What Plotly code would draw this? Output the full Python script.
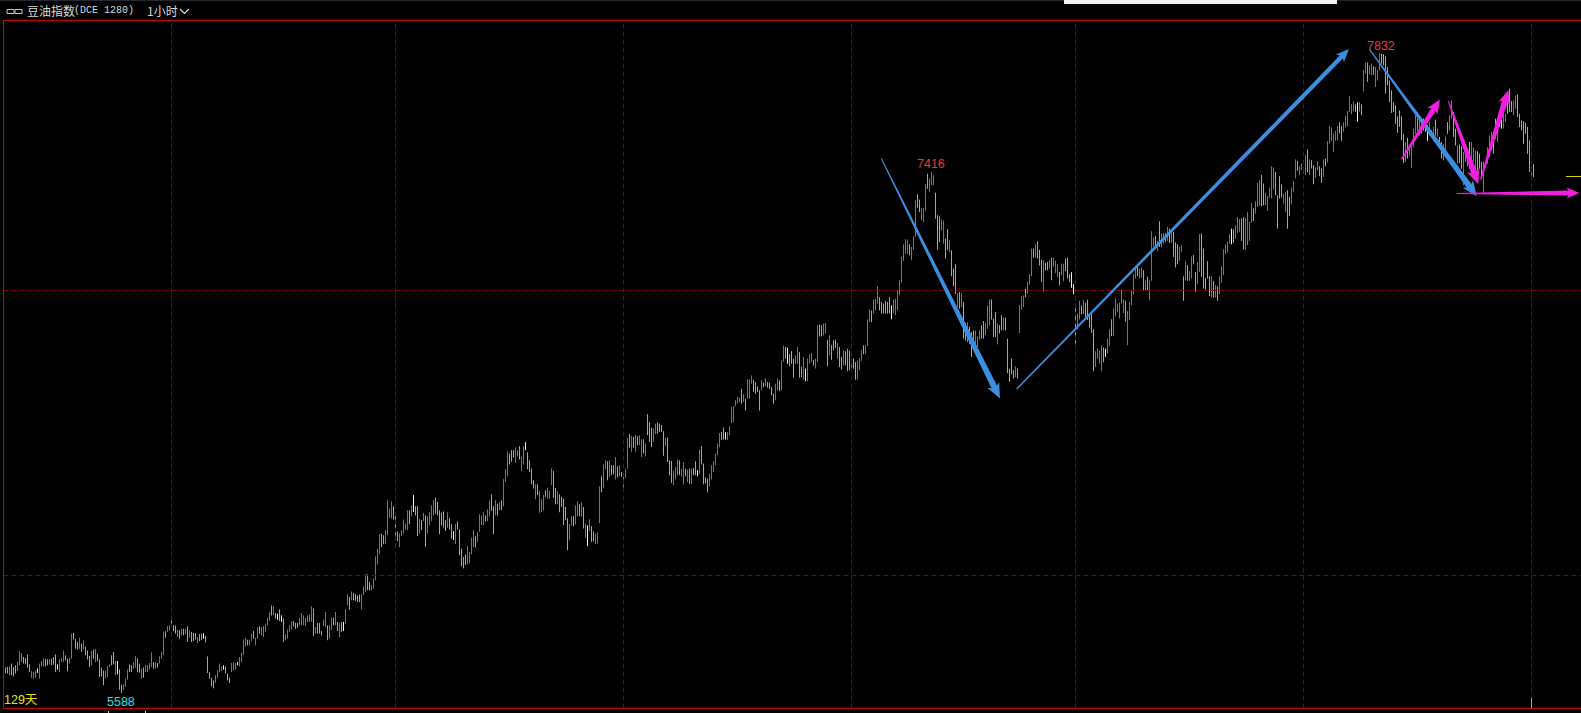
import math
import plotly.graph_objects as go

W, H = 1581, 713

highs = [
5677,5679,5681,5691,5679,5685,5696,5734,5728,5714,
5710,5723,5688,5665,5661,5667,5674,5691,5700,5710,
5708,5706,5706,5708,5714,5723,5688,5706,5710,5737,
5720,5708,5712,5796,5799,5778,5767,5782,5761,5772,
5751,5737,5718,5735,5740,5742,5726,5705,5677,5667,
5667,5682,5688,5720,5732,5700,5700,5671,5617,5618,
5638,5670,5688,5685,5696,5718,5710,5691,5673,5677,
5685,5685,5693,5730,5696,5696,5693,5716,5732,5803,
5805,5823,5825,5845,5825,5825,5810,5808,5813,5813,
5813,5822,5808,5802,5798,5798,5784,5794,5796,5798,
5787,5716,5661,5641,5632,5650,5667,5691,5681,5685,
5681,5656,5641,5693,5696,5693,5696,5714,5730,5776,
5782,5775,5775,5796,5805,5782,5819,5822,5819,5822,
5831,5852,5872,5895,5892,5868,5866,5881,5860,5849,
5794,5810,5825,5839,5840,5834,5834,5851,5868,5860,
5851,5860,5864,5892,5884,5819,5833,5833,5805,5845,
5872,5825,5825,5852,5852,5872,5837,5834,5837,5837,
5881,5934,5925,5944,5939,5934,5930,5934,5934,
5962,6004,6004,5977,5966,5989,6067,6094,6145,6147,6141,
6159,6264,6235,6260,6243,6211,6155,6147,6159,6196,
6182,6229,6229,6246,6282,6243,6243,6200,6194,6221,
6211,6208,6222,6246,6264,6273,6258,6229,6220,6225,
6194,6222,6203,6180,6156,6180,6190,6162,6094,6065,
6074,6103,6083,6133,6159,6138,6152,6215,6211,6222,
6211,6232,6262,6285,6243,6264,6252,6258,6264,6338,
6373,6436,6428,6440,6440,6449,6440,6454,6416,6454,
6468,6432,6404,6375,6334,6320,6320,6296,6268,6282,
6299,6308,6297,6376,6367,6307,6296,6285,6276,6269,
6241,6201,6180,6208,6208,6246,6260,6250,6257,6241,
6182,6176,6197,6173,6155,6147,6152,6313,6348,6390,
6404,6401,6404,6387,6387,6416,6383,6387,6363,6361,
6375,6482,6496,6489,6486,6492,6489,6492,6478,6478,
6463,6566,6538,6519,6516,6533,6537,6533,6528,6506,
6483,6484,6404,6402,6367,6381,6407,6404,6375,6397,
6375,6372,6375,6375,6377,6401,6369,6442,6454,6393,
6344,6340,6358,6387,6401,6428,6463,6500,6504,6519,
6503,6503,6524,6592,6594,6615,6627,6624,
6655,6636,6620,6688,6688,6702,6687,6679,6664,6650,
6685,6677,6691,6679,6677,6661,6638,6673,6692,6685,
6755,6806,6802,6799,6776,6787,6761,6772,6802,6784,
6732,6767,6726,6761,6776,6781,6757,6761,6878,6881,
6878,6884,6886,6827,6843,6808,6825,6827,6816,6802,
6767,6790,6787,6796,6790,6757,6761,6749,6755,6764,
6792,6808,6808,6899,6934,6930,6969,6969,7015,6977,
6960,6954,6963,6960,6977,6948,6968,6971,7001,7036,
7118,7162,7180,7178,7162,7153,7190,7317,7338,7319,
7290,7290,7373,7410,7393,7416,7404,7343,7264,7260,
7249,7246,7182,7215,7176,7141,7077,7092,6991,6995,
6991,6960,6886,6889,6872,6854,6860,6860,6839,6860,
6878,6893,6886,6948,6968,6969,6901,6925,6884,6878,
6913,6905,6905,6831,6726,6761,6720,6734,6726,6948,
6980,6983,7006,7030,7057,7147,7147,7162,7173,7143,
7108,7106,7097,7100,7106,7115,7115,7104,7092,7065,
7094,7094,7112,7115,7057,7064,7022,6948,
6919,6964,6948,6966,6957,6968,6917,6917,6864,6787,
6796,6790,6808,6800,6796,6831,6864,6899,6937,6972,
6954,6958,7004,6968,6964,6928,6960,7001,7057,7083,
7092,7077,7081,7071,7036,7048,7038,7208,7186,7191,
7174,7243,7200,7202,7200,7223,7217,7212,7205,7169,
7162,7153,7159,7050,7103,7089,7068,7120,7124,7065,
7100,7198,7200,7147,7044,7103,7050,7050,7033,7019,
7015,7050,7085,7145,7162,7171,7198,7217,7215,7229,
7258,7251,7253,7258,7253,7276,7241,7307,7288,7313,
7378,7387,7405,7375,7343,7331,7361,7436,7432,7416,
7334,7401,7373,7340,7346,7352,7329,7361,7384,7460,
7455,7436,7446,7432,7475,7495,7460,7457,7440,7432,
7454,7436,7428,7460,7463,7524,7577,7572,7551,7560,
7577,7590,7577,7590,7612,7630,7682,7654,7664,7654,
7660,7662,7653,7773,7800,7800,7790,7796,7787,7784,
7773,7832,7831,7829,7822,7784,7737,7702,7661,7650,
7611,7632,7611,7550,7521,7535,7509,7509,7568,7615,
7603,7603,7588,7603,7585,7580,7591,7562,7574,7599,
7568,7539,7521,7515,7541,7591,7615,7667,7626,7568,
7509,7513,7506,7486,7509,7498,7521,7521,7501,7492,
7489,7480,7451,7454,7451,7503,7544,7556,7539,7603,
7568,7597,7599,7620,7620,7673,7708,7665,7667,7685,
7688,7620,7597,7594,7588,7574,7527,7433,7443,
]

lows = [
5656,5656,5650,5650,5646,5656,5665,5685,5696,5691,
5688,5677,5661,5641,5638,5641,5658,5638,5681,5681,
5681,5685,5688,5685,5688,5661,5670,5661,5696,5696,
5702,5664,5691,5708,5775,5743,5740,5743,5732,5740,
5720,5705,5679,5685,5708,5696,5700,5644,5646,5615,
5638,5644,5679,5685,5688,5650,5653,5599,5588,5597,
5609,5634,5661,5661,5673,5677,5661,5659,5638,5641,
5661,5661,5670,5679,5673,5673,5677,5691,5708,5720,
5782,5802,5808,5822,5805,5796,5784,5778,5790,5790,
5794,5767,5782,5767,5770,5775,5763,5770,5773,5778,
5765,5658,5638,5611,5604,5623,5641,5661,5665,5670,
5656,5632,5623,5661,5667,5670,5685,5681,5696,5720,
5751,5755,5755,5770,5778,5755,5778,5796,5790,5784,
5802,5825,5840,5860,5860,5849,5845,5840,5837,5767,
5773,5778,5802,5810,5822,5813,5817,5825,5825,5825,
5822,5837,5837,5837,5787,5796,5796,5796,5790,5822,
5819,5773,5778,5808,5825,5825,5805,5784,5802,5805,
5831,5895,5880,5913,5913,5911,5907,5907,5880,
5931,5942,5948,5948,5948,5954,5983,6039,6074,6100,6110,
6110,6141,6203,6200,6196,6138,6121,6100,6138,6147,
6161,6159,6180,6208,6223,6211,6138,6147,6159,6191,
6100,6147,6176,6191,6211,6217,6211,6145,6176,6168,
6156,6168,6161,6129,6124,6110,6161,6071,6032,6025,
6036,6039,6042,6074,6100,6098,6118,6153,6177,6176,
6189,6191,6208,6227,6145,6211,6211,6229,6229,6243,
6328,6348,6390,6399,6414,6395,6418,6407,6367,6390,
6440,6373,6363,6320,6305,6268,6282,6220,6223,6229,
6276,6269,6269,6317,6273,6250,6250,6222,6241,6177,
6194,6089,6124,6175,6173,6180,6208,6208,6206,6165,
6131,6103,6156,6118,6119,6110,6112,6184,6292,6306,
6373,6334,6346,6352,6355,6337,6344,6348,6346,6305,
6342,6375,6449,6434,6449,6434,6457,6457,6416,6428,
6418,6492,6469,6451,6469,6496,6498,6504,6504,6420,
6454,6399,6352,6325,6317,6337,6352,6352,6346,6320,
6348,6328,6322,6320,6352,6352,6348,6355,6390,6320,
6322,6292,6313,6337,6363,6387,6422,6451,6475,6477,
6477,6475,6492,6535,6538,6594,6603,6609,
6603,6609,6579,6620,6620,6673,6644,6638,6644,6579,
6650,6661,6664,6659,6655,6632,6603,6615,6650,6647,
6650,6750,6761,6743,6734,6743,6694,6743,6743,6694,
6696,6687,6682,6682,6743,6749,6737,6726,6749,6839,
6839,6843,6849,6734,6772,6757,6790,6799,6761,6732,
6722,6737,6737,6717,6720,6717,6726,6687,6687,6720,
6753,6776,6776,6805,6889,6889,6919,6930,6954,6930,
6919,6919,6919,6919,6919,6899,6919,6913,6930,6983,
7028,7104,7129,7129,7123,7106,7143,7188,7291,7276,
7246,7240,7279,7357,7346,7369,7369,7252,7143,7170,
7211,7164,7112,7141,7135,7050,7015,6989,6942,6936,
6942,6831,6825,6819,6813,6767,6796,6802,6802,6827,
6831,6831,6843,6866,6878,6898,6837,6837,6811,6849,
6860,6860,6860,6710,6679,6706,6691,6696,6691,6851,
6933,6942,6977,6989,7021,7050,7115,7115,7112,7088,
7030,6995,7071,7071,7077,7036,7083,7061,7047,7018,
7053,7033,7068,7042,7030,7010,6987,6813,
6863,6898,6917,6917,6907,6896,6870,6851,6717,6732,
6761,6744,6717,6749,6767,6779,6804,6840,6840,6910,
6925,6902,6954,6921,6890,6808,6896,6948,6987,7042,
7050,7042,7044,6999,7001,7001,6966,7034,7155,7147,
7139,7153,7151,7165,7171,7174,7167,7167,7118,7081,
7092,7104,7134,6964,7036,7034,7034,7042,7092,6995,
7022,7065,7048,7007,7003,7042,6980,6975,6975,6975,
6964,6987,7027,7054,7127,7134,7165,7162,7167,7182,
7202,7206,7174,7144,7141,7159,7174,7237,7244,7270,
7293,7299,7296,7299,7299,7279,7326,7323,7354,7334,
7217,7323,7326,7305,7276,7217,7261,7303,7346,7394,
7420,7405,7422,7410,7405,7416,7405,7428,7373,7396,
7422,7401,7378,7399,7436,7450,7516,7525,7485,7525,
7527,7551,7525,7557,7572,7577,7627,7619,7630,7627,
7592,7627,7615,7699,7761,7732,7759,7755,7757,7714,
7737,7773,7796,7790,7691,7720,7661,7623,7626,7585,
7553,7574,7527,7447,7451,7463,7474,7430,7503,7550,
7562,7544,7550,7562,7556,7525,7544,7539,7527,7544,
7539,7509,7463,7457,7474,7550,7562,7603,7539,7509,
7445,7447,7427,7369,7451,7433,7427,7422,7451,7398,
7422,7427,7398,7340,7433,7445,7468,7492,7480,7533,
7521,7574,7568,7568,7591,7620,7626,7626,7615,7638,
7609,7574,7562,7515,7550,7480,7416,7398,7398,
]

# r = up bar, c = down bar, w = unchanged bar
directions = "".join([
"ccrcccrrrc","cccrrrwrrr","ccrcccwrrr","ccrrcccrcr","cccrcrcccc",
"rrrccrwccr","rrccrrccrc","rrrrcrcrrr","crrcccrcrc","rcrcccrccw",
"cccccrrrrw","cccrrrwrrr","rcrrcrrcrr","rrrcrcwcwc","rrrrcccrrr",
"rrrrcrcccr","rcrrcrcrcw","rrcrcccc" "r",
"rrccrrrrrcc","rrrrcccrrr","rrcrwccrcr","crrrrccccc","crccwrcccc",
"crrrrcrrrr","crrccrcrcr","rrcccrrcrr","wccccrcrrr","crrrccrccc",
"ccrrcrrcrc","rwrccrrrcr","rcrccrcrcr","rrcrcrcrrc","rcccrrcccc",
"rcccrrrcrr","crcrccwrcc","ccrrrrrrcc","wrrrrrrr",
"crcrrrcccc","rcrccccrrc","rrcwcccrrc","crwrrrcrrc","crrcrcccrc",
"crcccrccrr","rcrrrcrrrc","cccccwrrrr","rrrrcrrrcc","rrrcrrrccc",
"rrccrcccrc","rccrcccrrr","ccrrrcccrc","crcccccrcr","rrcrrrcrcc",
"crccrcrrrc","rrcccwwc",
"rrcrcccccr","rrrcwrrcrr","rrrrcrrrrr","crrcrcrrrc","rcrrcrcrcc",
"crrcrcrrcc","rrcccccrcr","crrrrrrwcr","rrccrrrrcr","rrccrrrrrc",
"cccrrccrrr","crrrrcrccr","rccrcrrrrr","rccrrrrrrc","wrcrrcrrcr",
"rrcccccccc","ccccrcrrrr","crrccwrcrc","rccrrcrrcc","rccrrrcrrr",
"cccrrrrrcc","rwwrrcccrr","cccccccrc",
])

grid_bar_index = [83, 195, 309, 423, 535, 649, 763]
grid_price = [7000, 6000]

extreme_labels = ["7416", "7832", "5588"]
days_label = "129天"
title_name = "豆油指数"
title_code = "(DCE 1280)"
period_text = "1小时"

# drawn trend arrows: bar index and price at each end
arrow_start_bar = [437.9, 505.6, 682.0, 698.0, 721.4, 737.6, 725.6]
arrow_start_price = [7463, 6654, 7846, 7460, 7665, 7389, 7340]
arrow_end_bar = [497.25, 671.75, 735.6, 717.25, 736.4, 751.4, 787.0]
arrow_end_price = [6621, 7847, 7331, 7670, 7373, 7703, 7342]
arrow_color = ["#3a8fe0", "#3a8fe0", "#3a8fe0", "#f01fe0", "#f01fe0", "#f01fe0", "#f01fe0"]
arrow_w0 = [1.0, 1.5, 1.0, 1.5, 1.0, 1.5, 1.0]
arrow_w1 = [6.0, 4.5, 6.0, 5.5, 6.0, 6.0, 5.0]
arrow_head = [6.5, 5.5, 6.5, 6, 6.5, 6, 5.5]

n = min(len(highs), len(lows))
directions = (directions + "c" * n)[:n]

# axis ranges so that one bar = 2 px and 1000 price units = 285 px
x0 = -2.75
x1 = (W - 5.5) / 2
pp = 1000 / 285
y_top = 7000 + 290.5 * pp
y_bot = 7000 - (H - 290.5) * pp

def to_px(b):
    return (b - x0) * W / (x1 - x0)
def to_py(p):
    return (y_top - p) * H / (y_top - y_bot)
def from_px(x):
    return x0 + x * (x1 - x0) / W
def from_py(y):
    return y_top - y * (y_top - y_bot) / H
def fx(x):
    return x / W
def fy(y):
    return 1 - y / H

fig = go.Figure()
for key, color in (("r", "#e84545"), ("c", "#22e0e0"), ("w", "#f0f0f0")):
    xs, ys = [], []
    for i in range(n):
        if directions[i] == key:
            xs += [i, i, None]
            ys += [lows[i], highs[i], None]
    fig.add_trace(go.Scatter(x=xs, y=ys, mode="lines", line=dict(color=color, width=1),
                             hoverinfo="skip", showlegend=False))

shapes = []
GRID = "#850000"
FRAME = "#c80000"
for b in grid_bar_index:
    shapes.append(dict(type="line", xref="x", yref="paper", x0=b, x1=b, y0=fy(708.5), y1=fy(20.5),
                       line=dict(color=GRID, width=1, dash="5px,3px"), layer="above"))
for p in grid_price:
    shapes.append(dict(type="line", xref="paper", yref="y", x0=fx(3.5), x1=1, y0=p, y1=p,
                       line=dict(color=GRID, width=1, dash="5px,3px"), layer="above"))

def frame_line(xa, ya, xb, yb, color=FRAME, width=1):
    shapes.append(dict(type="line", xref="paper", yref="paper", x0=fx(xa), y0=fy(ya), x1=fx(xb), y1=fy(yb),
                       line=dict(color=color, width=width), layer="above"))

frame_line(3, 20.5, W, 20.5)
frame_line(3, 708.5, W, 708.5)
frame_line(3.5, 20, 3.5, 709)
frame_line(0, 0.5, 1064, 0.5, "#23282e")
frame_line(1337, 0.5, W, 0.5, "#23282e")
frame_line(1531.5, 698, 1531.5, 708, "#a8a8a8")
frame_line(1566, 176.5, W, 176.5, "#d8d800")
frame_line(108.5, 711, 108.5, 713, "#d0d0d0")
frame_line(145.5, 711, 145.5, 713, "#d0d0d0")

# white strip at top
shapes.append(dict(type="rect", xref="paper", yref="paper", x0=fx(1064), x1=fx(1337), y0=fy(4), y1=1,
                   fillcolor="#f2f2f2", line=dict(width=0), layer="above"))
# link icon
for xa, xb in ((7, 14), (15, 22)):
    shapes.append(dict(type="rect", xref="paper", yref="paper", x0=fx(xa), x1=fx(xb), y0=fy(13.5), y1=fy(9.5),
                       line=dict(color="#c8c8c8", width=1), fillcolor="rgba(0,0,0,0)", layer="above"))
# chevron
shapes.append(dict(type="path", xref="paper", yref="paper",
                   path=f"M {fx(180)} {fy(9)} L {fx(184.5)} {fy(13.5)} L {fx(189)} {fy(9)}",
                   line=dict(color="#e0e0e0", width=1.2), layer="above"))

# tapered arrows
for k in range(len(arrow_start_bar)):
    ax, ay = to_px(arrow_start_bar[k]), to_py(arrow_start_price[k])
    bx, by = to_px(arrow_end_bar[k]), to_py(arrow_end_price[k])
    L = math.hypot(bx - ax, by - ay)
    ux, uy = (bx - ax) / L, (by - ay) / L
    nx, ny = -uy, ux
    head_len = arrow_head[k] * 2.0
    sx, sy = bx - ux * head_len, by - uy * head_len
    w0, w1, hw = arrow_w0[k] / 2, arrow_w1[k] / 2, arrow_head[k]
    pts = [(ax + nx * w0, ay + ny * w0), (sx + nx * w1, sy + ny * w1), (sx + nx * hw - ux * 2, sy + ny * hw - uy * 2),
           (bx, by), (sx - nx * hw - ux * 2, sy - ny * hw - uy * 2), (sx - nx * w1, sy - ny * w1), (ax - nx * w0, ay - ny * w0)]
    path = "M " + " L ".join(f"{from_px(x):.3f} {from_py(y):.1f}" for x, y in pts) + " Z"
    shapes.append(dict(type="path", xref="x", yref="y", path=path, fillcolor=arrow_color[k],
                       line=dict(width=0), layer="above"))

def label(text, x, y, color, size=12.5, family="Liberation Sans", anchor="center"):
    return dict(text=text, xref="paper", yref="paper", x=fx(x), y=fy(y), xanchor=anchor, yanchor="middle",
                showarrow=False, font=dict(color=color, size=size, family=family))

annotations = [
    label(extreme_labels[0], 931, 164, "#e83a3a"),
    label(extreme_labels[1], 1381, 46, "#e83a3a"),
    label(extreme_labels[2], 121, 701.5, "#22e0e0"),
    label(days_label, 1.5, 699.5, "#e6e600", anchor="left", family="Liberation Sans, Noto Sans CJK SC"),
    label(title_name, 25, 11, "#d8d8d8", size=12, anchor="left", family="Noto Sans CJK SC"),
    label(title_code, 72, 11, "#d8d8d8", size=10, anchor="left", family="Liberation Mono"),
    label(period_text, 145, 11, "#d8d8d8", size=12, anchor="left", family="Noto Sans CJK SC"),
]

fig.update_layout(
    width=W, height=H, margin=dict(l=0, r=0, t=0, b=0),
    paper_bgcolor="#000000", plot_bgcolor="#000000",
    xaxis=dict(range=[x0, x1], visible=False, fixedrange=True),
    yaxis=dict(range=[y_bot, y_top], visible=False, fixedrange=True),
    shapes=shapes, annotations=annotations, showlegend=False,
)

fig.write_html("out.html", config={"displayModeBar": False},
               post_script="document.body.style.margin='0';document.body.style.background='#000';document.body.style.overflow='hidden';")
